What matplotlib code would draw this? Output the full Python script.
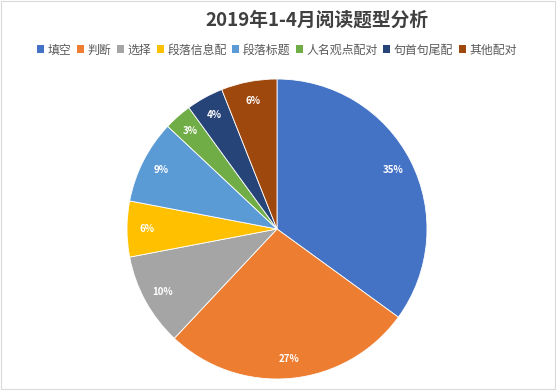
import matplotlib
matplotlib.use("Agg")
import matplotlib.pyplot as plt
from matplotlib.patches import Rectangle

plt.rcParams['font.family'] = ['Noto Sans CJK SC', 'DejaVu Sans']

categories = ['填空', '判断', '选择', '段落信息配', '段落标题', '人名观点配对', '句首句尾配', '其他配对']
values = [35, 27, 10, 6, 9, 3, 4, 6]
colors = ['#4472C4', '#ED7D31', '#A5A5A5', '#FFC000', '#5B9BD5', '#70AD47', '#264478', '#9E480E']
title = '2019年1-4月阅读题型分析'

fig = plt.figure(figsize=(5.56, 3.90), dpi=100)
fig.patch.set_facecolor('white')
fig.add_artist(Rectangle((0.002, 0.002), 0.996, 0.996, transform=fig.transFigure,
                         fill=False, edgecolor='#D9D9D9', linewidth=0.8))

# pie axes: center (277,229), radius 150 px
cx, cy, r = 277, 229, 150
W, H = 556, 390
ax = fig.add_axes([(cx - r) / W, 1 - (cy + r) / H, 2 * r / W, 2 * r / H])
wedges, texts, autotexts = ax.pie(values, colors=colors, startangle=90, counterclock=False,
                                  autopct='%1.0f%%', pctdistance=0.87,
                                  wedgeprops=dict(edgecolor='white', linewidth=0.6),
                                  textprops=dict(color='white', fontsize=7, fontweight='bold'))
ax.set_xlim(-1, 1)
ax.set_ylim(-1, 1)
ax.set_aspect('equal')
ax.axis('off')

fig.text(317 / W, 1 - 20 / H, title, ha='center', va='center', fontsize=13.5,
         fontweight='bold', color='#404040')

handles = [Rectangle((0, 0), 1, 1, facecolor=c) for c in colors]
fig.legend(handles, categories, loc='center', bbox_to_anchor=(277 / W, 1 - 50 / H), ncol=8,
           frameon=False, fontsize=8.6, handlelength=0.6, handleheight=0.6,
           handletextpad=0.3, columnspacing=0.45, labelcolor='#595959')

fig.savefig('out.png', dpi=100)
